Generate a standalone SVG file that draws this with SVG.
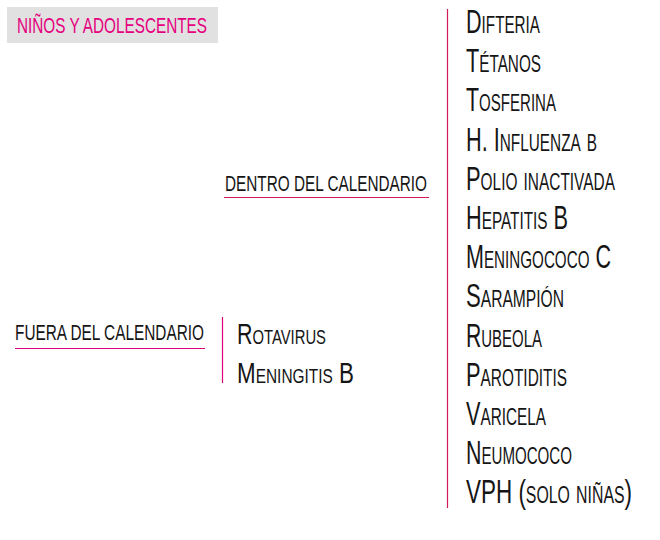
<svg xmlns="http://www.w3.org/2000/svg" width="660" height="540" viewBox="0 0 660 540">
<style>
text{font-family:"Liberation Sans Narrow","Liberation Sans",Arial,sans-serif;fill:#151515}
.hd{font-size:22px}
.it{font-size:34px;font-variant:small-caps}
.mid{font-size:29px;font-variant:small-caps}
.ln{stroke:#cf1a5e;stroke-width:1.2;fill:none}
.lp{stroke:#e4007a}
</style>
<rect width="660" height="540" fill="#fff"/>
<g id="title">
<rect x="7" y="7" width="211" height="36" fill="#e1e1e1"/>
<text class="hd" x="17" y="33" textLength="190" lengthAdjust="spacingAndGlyphs" style="fill:#e5007e">NIÑOS Y ADOLESCENTES</text>
</g>
<g id="dentro">
<text class="hd" x="225" y="191" textLength="202" lengthAdjust="spacingAndGlyphs">DENTRO DEL CALENDARIO</text>
</g>
<g id="fuera">
<text class="hd" x="15" y="340" textLength="189" lengthAdjust="spacingAndGlyphs">FUERA DEL CALENDARIO</text>
</g>
<g id="fuera-list">
<text class="mid" x="237" y="344" textLength="89" lengthAdjust="spacingAndGlyphs">Rotavirus</text>
<text class="mid" x="237" y="383" textLength="117" lengthAdjust="spacingAndGlyphs">Meningitis B</text>
</g>
<g id="dentro-list">
<text class="it" x="466" y="33" textLength="74" lengthAdjust="spacingAndGlyphs">Difteria</text>
<text class="it" x="466" y="72.2" textLength="75" lengthAdjust="spacingAndGlyphs">Tétanos</text>
<text class="it" x="466" y="111.4" textLength="90" lengthAdjust="spacingAndGlyphs">Tosferina</text>
<text class="it" x="466" y="150.6" textLength="131" lengthAdjust="spacingAndGlyphs">H. Influenza b</text>
<text class="it" x="466" y="189.8" textLength="149" lengthAdjust="spacingAndGlyphs">Polio inactivada</text>
<text class="it" x="466" y="229" textLength="102" lengthAdjust="spacingAndGlyphs">Hepatitis B</text>
<text class="it" x="466" y="268.2" textLength="145" lengthAdjust="spacingAndGlyphs">Meningococo C</text>
<text class="it" x="466" y="307.4" textLength="98" lengthAdjust="spacingAndGlyphs">Sarampión</text>
<text class="it" x="466" y="346.6" textLength="76" lengthAdjust="spacingAndGlyphs">Rubeola</text>
<text class="it" x="466" y="385.8" textLength="101" lengthAdjust="spacingAndGlyphs">Parotiditis</text>
<text class="it" x="466" y="425" textLength="80" lengthAdjust="spacingAndGlyphs">Varicela</text>
<text class="it" x="466" y="464.2" textLength="106" lengthAdjust="spacingAndGlyphs">Neumococo</text>
<text class="it" x="466" y="503.4" textLength="166" lengthAdjust="spacingAndGlyphs">VPH (solo niñas)</text>
</g>
<g id="connectors">
<line class="ln" x1="224" y1="197.5" x2="429" y2="197.5"/>
<line class="ln lp" x1="15" y1="348.5" x2="205" y2="348.5"/>
<line class="ln lp" x1="222.5" y1="317" x2="222.5" y2="383"/>
<line class="ln" x1="447.5" y1="9" x2="447.5" y2="508"/>
</g>
</svg>
